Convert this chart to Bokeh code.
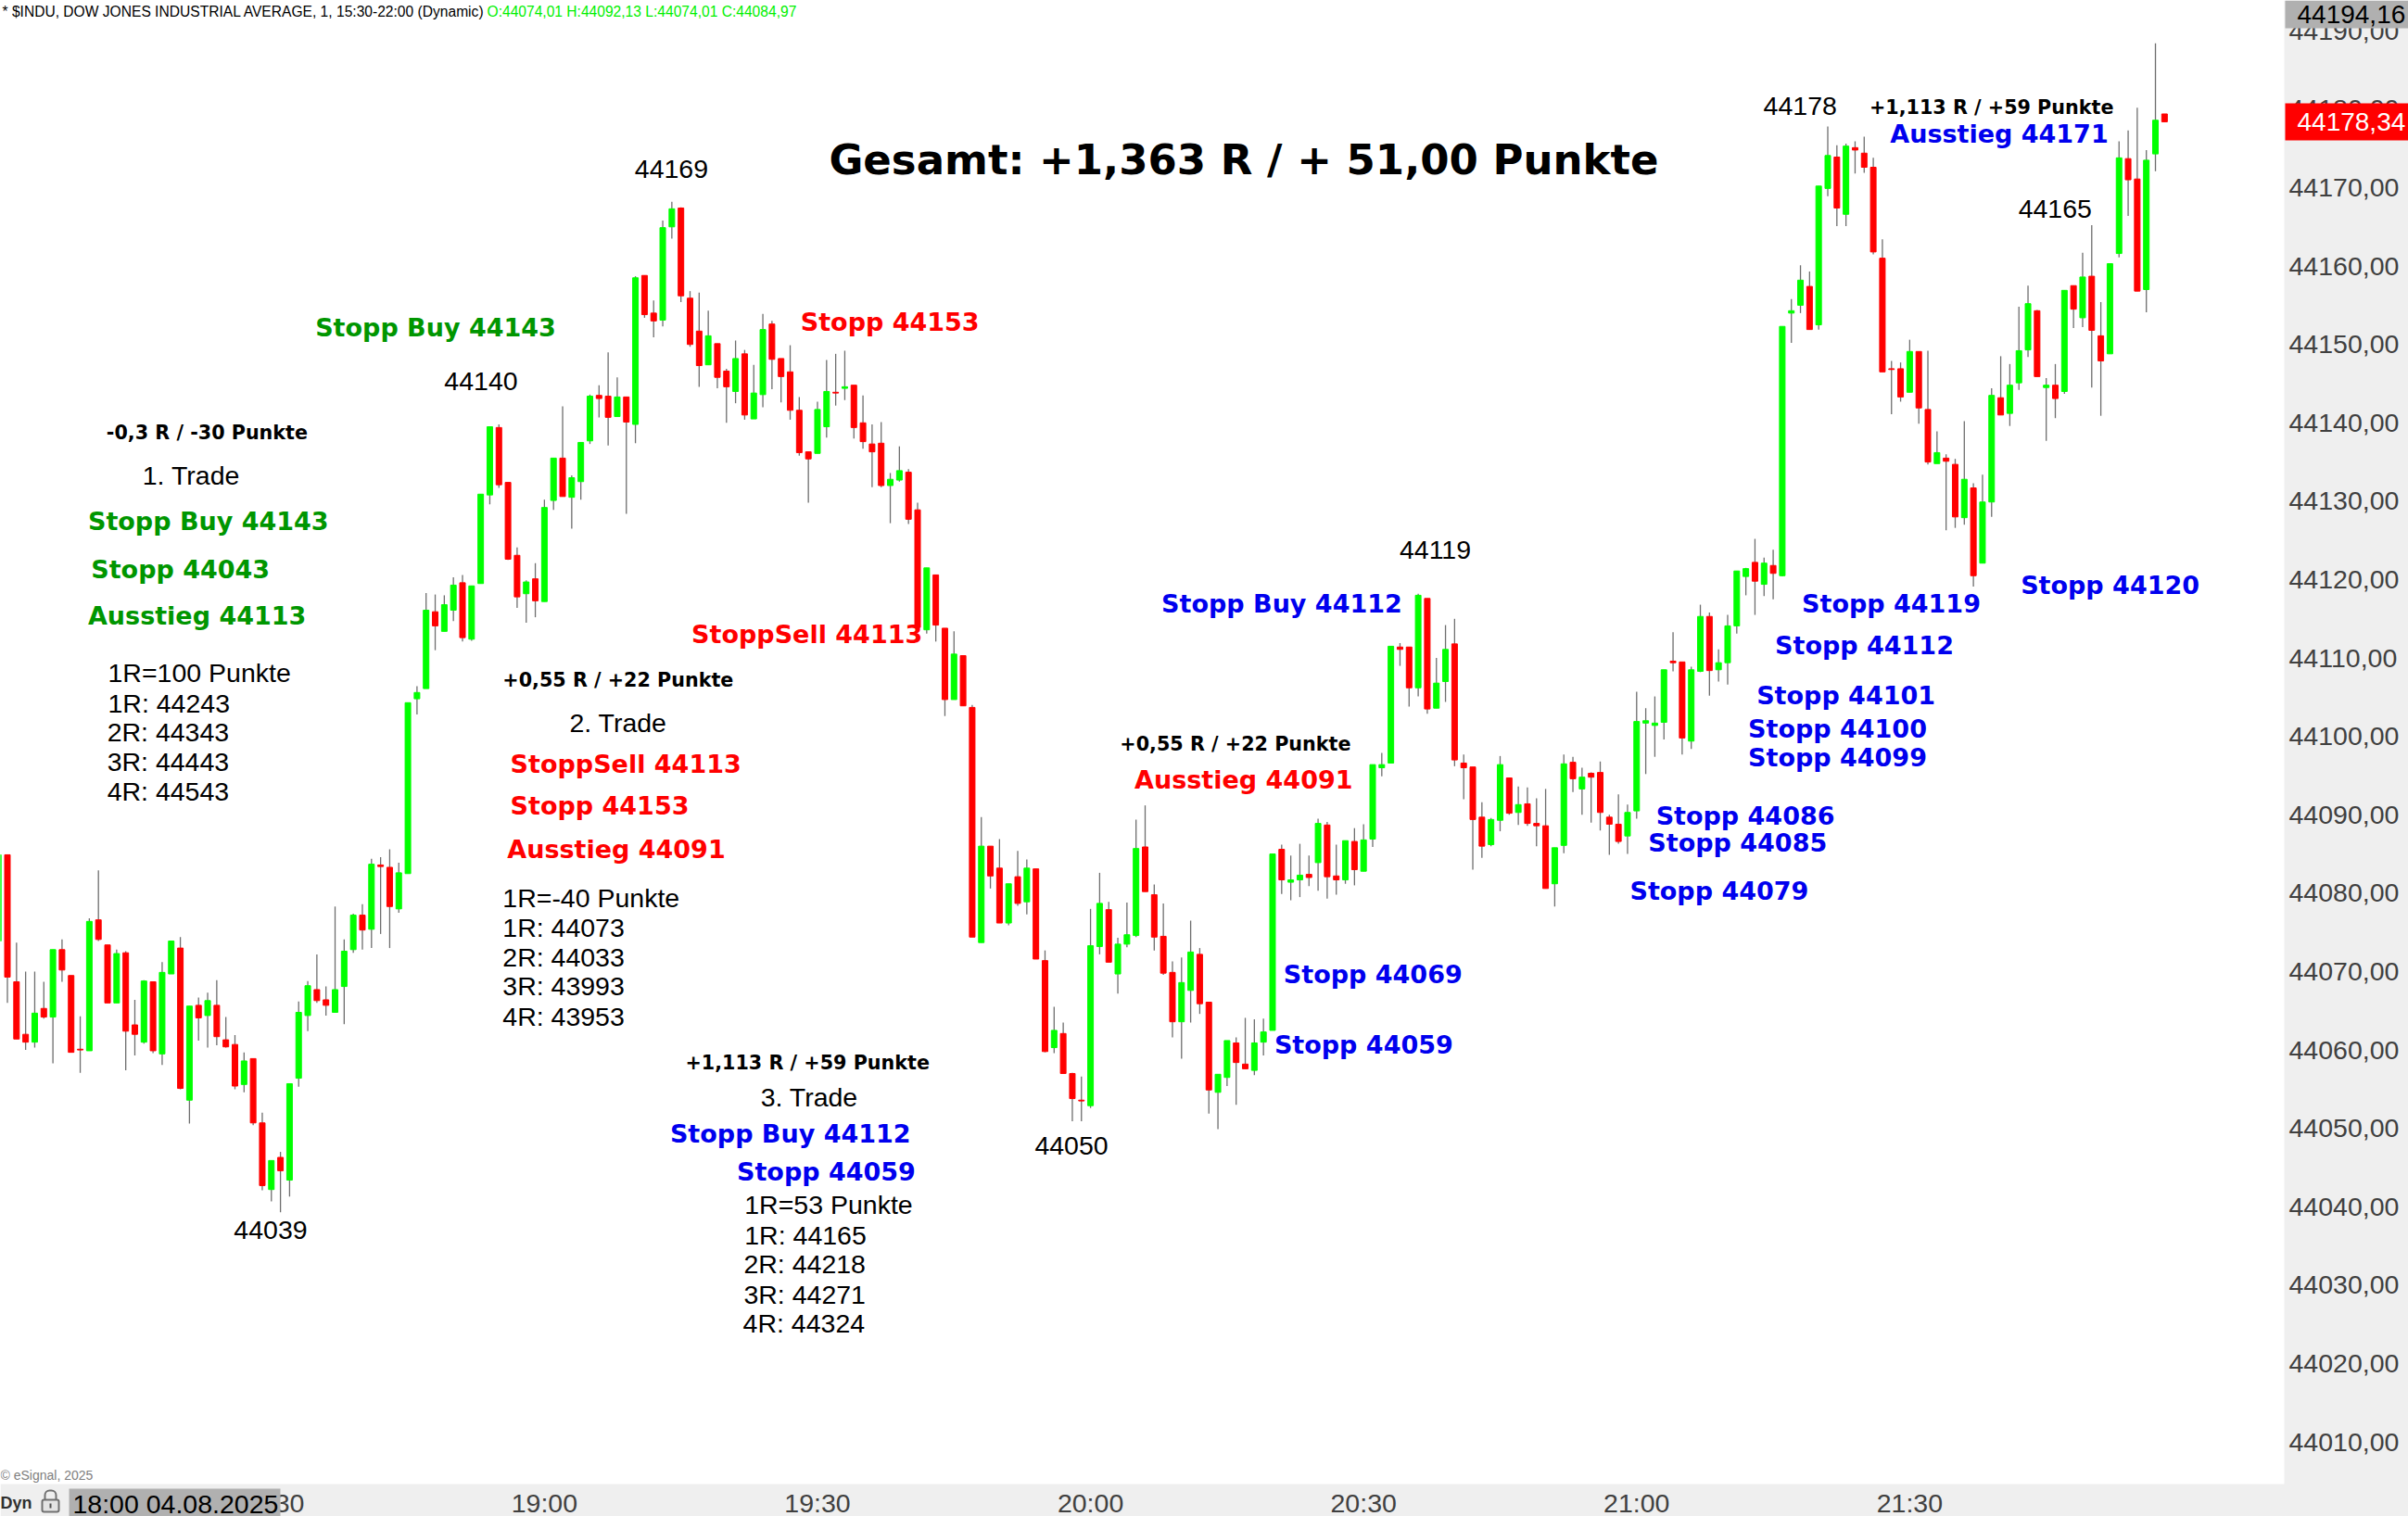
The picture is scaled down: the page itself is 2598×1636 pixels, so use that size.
from bokeh.plotting import figure
from bokeh.models import Range1d, FixedTicker, Label, BoxAnnotation, ColumnDataSource
from bokeh.embed import file_html
from bokeh.resources import INLINE

first_bar = -1
opens = [
44073.9,44084.9,44068.7,44062.0,44061.0,44065.3,44064.2,44072.8,44069.5,44060.1,
44059.9,44076.6,44073.4,44066.0,44072.4,44063.2,44061.0,44068.7,44059.5,44069.7,
44073.0,44053.6,44065.7,44064.4,44065.7,44061.3,44060.7,44055.6,44058.9,44050.7,
44042.2,44046.3,44043.4,44056.4,44064.4,44067.7,44066.4,44064.8,44068.1,44072.8,
44077.2,44075.4,44083.6,44083.3,44078.0,44082.5,44104.8,44106.1,44115.9,44113.4,
44116.1,44119.6,44112.4,44119.5,44130.8,44139.4,44132.4,44123.1,44118.2,44120.1,
44117.2,44130.1,44135.5,44130.5,44132.5,44137.7,44143.5,44143.4,44140.8,44143.3,
44139.8,44158.8,44154.0,44153.1,44165.0,44167.4,44155.9,44151.7,44147.4,44150.1,
44146.6,44144.0,44148.8,44140.5,44143.6,44152.6,44148.2,44146.5,44141.6,44136.3,
44136.1,44139.5,44143.9,44144.4,44144.8,44140.0,44137.3,44137.4,44132.0,44132.7,
44133.7,44128.9,44113.6,44120.6,44113.8,44104.7,44110.3,44103.7,44073.7,44086.0,
44083.2,44076.2,44082.1,44078.9,44083.1,44071.4,44060.3,44062.1,44057.0,44053.6,
44052.9,44073.2,44077.9,44069.7,44073.5,44074.6,44085.9,44079.8,44074.5,44069.9,
44063.6,44067.6,44072.2,44066.1,44054.6,44056.5,44060.9,44058.2,44057.4,44061.0,
44062.5,44085.6,44081.4,44081.7,44082.4,44083.9,44088.7,44082.2,44081.7,44086.6,
44082.8,44086.9,44096.0,44096.6,44111.4,44111.4,44106.2,44117.6,44103.6,44107.0,
44111.8,44096.6,44096.1,44089.7,44086.2,44089.3,44094.7,44090.3,44091.4,44088.9,
44088.6,44081.2,44086.1,44096.7,44093.3,44095.3,44095.4,44089.7,44088.8,44087.3,
44090.5,44101.7,44101.4,44101.8,44109.6,44109.5,44099.4,44108.3,44115.3,44108.5,
44109.4,44114.1,44120.4,44122.2,44119.4,44121.8,44120.5,44154.0,44155.0,44157.4,
44152.5,44169.9,44173.9,44166.6,44175.1,44174.4,44172.6,44161.0,44146.9,44146.9,
44143.9,44149.1,44141.7,44134.8,44135.5,44134.7,44127.9,44131.7,44122.1,44129.9,
44143.2,44141.2,44145.1,44149.3,44154.3,44144.5,44144.8,44144.0,44157.5,44153.4,
44158.7,44151.1,44148.8,44161.6,44173.7,44171.1,44157.0,44174.3,44179.4]
highs = [
44084.9,44084.9,44073.7,44070.0,44070.0,44068.7,44072.8,44074.1,44069.5,44064.3,
44076.8,44082.9,44073.4,44072.8,44072.6,44066.4,44068.9,44068.7,44071.2,44073.9,
44074.4,44065.6,44066.7,44067.3,44068.9,44064.2,44061.9,44059.7,44058.9,44052.0,
44045.9,44047.0,44055.7,44066.2,44068.8,44072.2,44068.1,44078.3,44074.1,44077.4,
44078.6,44084.4,44084.6,44085.6,44083.9,44104.3,44106.4,44118.3,44118.1,44118.0,
44120.3,44120.6,44119.2,44130.9,44139.5,44139.8,44132.4,44124.1,44119.9,44122.1,
44130.2,44135.5,44142.1,44133.3,44137.5,44143.6,44144.8,44149.0,44145.8,44143.3,
44158.7,44158.8,44155.6,44165.8,44168.2,44167.5,44156.8,44156.6,44154.3,44150.1,
44146.9,44150.5,44149.3,44147.4,44153.9,44153.0,44148.2,44149.9,44143.3,44136.3,
44142.7,44148.0,44148.8,44149.2,44144.8,44143.5,44139.8,44140.1,44133.6,44137.0,
44134.1,44129.8,44121.5,44120.6,44113.8,44113.4,44110.3,44104.0,44089.7,44086.0,
44086.9,44081.2,44085.4,44084.3,44083.1,44072.7,44065.5,44063.5,44057.1,44056.6,
44078.0,44082.6,44078.9,44074.3,44078.8,44089.4,44091.2,44081.1,44078.7,44071.3,
44071.8,44076.5,44073.0,44066.1,44056.9,44061.2,44061.6,44064.1,44063.9,44064.0,
44085.0,44086.2,44084.8,44086.3,44084.8,44089.5,44089.1,44086.2,44086.7,44088.3,
44088.8,44096.4,44097.9,44111.5,44111.9,44111.4,44118.2,44117.6,44110.0,44114.2,
44115.0,44097.7,44096.1,44091.6,44089.6,44097.5,44094.7,44093.6,44093.5,44092.1,
44093.3,44085.8,44097.7,44097.4,44096.0,44095.4,44096.8,44090.0,44092.6,44091.3,
44105.7,44103.6,44105.1,44108.5,44113.3,44109.5,44108.9,44116.8,44115.8,44111.1,
44115.5,44121.1,44121.5,44125.2,44122.8,44123.8,44152.3,44155.8,44160.1,44159.3,
44170.2,44177.8,44175.4,44175.6,44175.9,44176.5,44173.8,44163.4,44147.9,44147.7,
44150.6,44149.1,44149.2,44138.9,44136.0,44135.4,44140.2,44132.3,44133.4,44144.4,
44148.5,44147.5,44154.8,44157.5,44154.4,44145.7,44147.5,44156.9,44157.5,44161.7,
44165.2,44155.4,44160.3,44175.9,44177.3,44180.2,44174.8,44188.4,44179.4]
lows = [
44073.9,44066.0,44061.4,44060.0,44060.3,44064.0,44058.3,44068.7,44059.7,44057.1,
44059.9,44073.9,44066.0,44066.0,44057.4,44059.3,44060.8,44059.6,44058.1,44069.7,
44055.0,44050.6,44061.2,44060.3,44060.6,44060.3,44055.0,44054.6,44050.4,44042.1,
44040.7,44039.3,44041.3,44055.3,44062.4,44066.0,44064.4,44064.8,44063.3,44072.4,
44072.8,44073.0,44074.8,44073.0,44077.5,44082.5,44102.8,44106.1,44111.0,44113.4,
44114.7,44112.1,44112.2,44119.5,44129.6,44131.7,44122.5,44116.4,44114.5,44115.2,
44117.2,44128.9,44130.6,44126.5,44130.2,44137.3,44140.7,44137.1,44140.8,44128.4,
44137.4,44153.4,44150.9,44152.3,44163.5,44155.4,44149.7,44144.6,44147.4,44144.4,
44140.0,44142.5,44140.4,44140.5,44142.0,44144.3,44142.6,44140.4,44135.8,44129.8,
44136.1,44138.1,44142.2,44142.9,44138.0,44136.7,44131.8,44131.8,44127.2,44132.5,
44127.1,44113.9,44113.1,44112.1,44102.6,44104.7,44103.9,44074.4,44073.7,44080.6,
44076.2,44075.9,44078.4,44077.3,44071.6,44059.7,44059.6,44057.0,44050.9,44050.9,
44052.6,44072.2,44071.2,44067.2,44073.1,44074.4,44080.2,44072.7,44069.6,44061.6,
44058.9,44063.5,44064.6,44051.9,44049.9,44055.4,44053.0,44057.6,44056.8,44059.3,
44062.5,44079.9,44079.1,44079.5,44080.9,44080.3,44079.3,44079.8,44081.2,44081.0,
44082.8,44085.9,44094.9,44096.6,44109.0,44103.8,44105.1,44102.9,44103.6,44104.4,
44096.2,44092.0,44083.0,44084.5,44086.0,44087.9,44090.0,44088.7,44088.6,44086.0,
44080.6,44078.3,44085.1,44092.9,44090.0,44089.0,44088.0,44084.9,44086.3,44085.0,
44089.5,44095.2,44097.4,44099.6,44108.3,44097.7,44098.4,44108.2,44105.2,44107.0,
44106.6,44113.1,44118.0,44115.5,44117.9,44117.5,44120.4,44150.2,44154.0,44151.9,
44151.9,44168.9,44165.1,44165.1,44171.8,44171.9,44161.5,44146.5,44141.1,44142.7,
44143.9,44139.9,44134.7,44134.8,44126.3,44126.6,44127.0,44119.1,44122.1,44128.0,
44141.0,44139.6,44144.2,44148.4,44145.9,44137.7,44140.6,44143.7,44152.1,44152.2,
44144.5,44140.9,44148.8,44161.1,44166.4,44156.8,44154.1,44172.1,44178.4]
closes = [
44084.9,44069.3,44061.4,44061.0,44064.7,44064.2,44072.8,44070.2,44059.7,44060.0,
44076.4,44074.1,44066.0,44072.3,44062.4,44062.0,44068.8,44059.9,44069.9,44073.9,
44055.1,44065.6,44064.1,44066.3,44061.7,44060.4,44055.4,44058.6,44050.7,44042.7,
44045.9,44044.6,44055.7,44064.8,44068.2,44066.3,44065.7,44067.7,44072.6,44077.2,
44075.3,44083.7,44083.4,44078.3,44082.6,44104.3,44105.6,44116.1,44114.1,44116.8,
44119.3,44112.6,44119.2,44130.9,44139.5,44132.1,44122.6,44117.8,44119.7,44117.3,
44129.2,44135.5,44130.6,44133.0,44137.5,44143.4,44143.1,44140.7,44143.3,44140.1,
44158.5,44153.8,44153.0,44164.9,44167.3,44156.2,44150.0,44147.3,44151.1,44145.8,
44144.6,44148.2,44141.0,44143.8,44151.9,44148.1,44145.9,44141.6,44136.2,44135.4,
44141.7,44144.0,44143.8,44144.6,44139.4,44137.6,44136.3,44132.0,44132.8,44133.9,
44127.7,44113.9,44121.5,44114.2,44104.7,44110.5,44103.9,44074.4,44086.0,44082.2,
44076.2,44081.2,44078.7,44083.2,44071.6,44059.8,44062.5,44057.0,44053.8,44053.5,
44073.3,44078.7,44071.2,44073.5,44074.7,44085.7,44080.2,44074.4,44069.8,44063.6,
44068.6,44072.5,44065.9,44054.9,44056.9,44061.2,44058.4,44057.6,44060.9,44062.3,
44085.0,44081.7,44081.7,44082.3,44082.0,44088.9,44082.1,44081.7,44086.7,44083.0,
44086.8,44096.4,44096.4,44111.5,44111.1,44106.2,44118.0,44103.5,44106.8,44111.1,
44097.0,44096.0,44089.4,44086.0,44089.4,44096.4,44090.2,44091.3,44088.9,44088.6,
44080.6,44085.8,44096.5,44094.6,44094.8,44094.8,44090.3,44088.8,44086.6,44090.3,
44101.9,44102.0,44101.7,44108.5,44109.4,44099.8,44108.5,44115.3,44108.4,44109.4,
44114.1,44121.1,44121.4,44119.8,44122.1,44120.8,44152.3,44154.3,44158.2,44151.9,
44170.2,44174.1,44167.4,44175.3,44174.8,44172.6,44161.8,44146.5,44146.8,44143.3,
44149.1,44141.9,44135.0,44136.2,44135.1,44128.0,44132.8,44120.5,44129.9,44143.5,
44141.0,44144.8,44149.2,44155.2,44145.9,44144.8,44143.1,44156.9,44154.5,44158.6,
44151.8,44147.9,44160.3,44173.8,44171.0,44156.8,44173.5,44178.6,44178.4]

price_ticks = list(range(44010, 44200, 10))
time_ticks = [29, 59, 89, 119, 149, 179, 209]
time_labels = ["18:30", "19:00", "19:30", "20:00", "20:30", "21:00", "21:30"]

# labels drawn on the chart: text, left edge and vertical centre in the 1568-wide view
green_labels = [("Stopp Buy 44143", 205, 214), ("Stopp Buy 44143", 57, 340),
                ("Stopp 44043", 59, 371.5), ("Ausstieg 44113", 57, 401.5)]
red_labels = [("Stopp 44153", 521, 210.5), ("StoppSell 44113", 450, 414),
              ("StoppSell 44113", 332, 498), ("Stopp 44153", 332, 525.5),
              ("Ausstieg 44091", 330, 553.5), ("Ausstieg 44091", 738.5, 508.5)]
blue_labels = [("Stopp Buy 44112", 756, 394), ("Stopp Buy 44112", 436, 739),
               ("Stopp 44059", 479.5, 763.5), ("Ausstieg 44171", 1230.5, 88),
               ("Stopp 44119", 1173, 394), ("Stopp 44112", 1155.5, 421),
               ("Stopp 44120", 1315.5, 382), ("Stopp 44101", 1143.5, 453.5),
               ("Stopp 44100", 1138, 475), ("Stopp 44099", 1138, 494),
               ("Stopp 44086", 1078, 532), ("Stopp 44085", 1073, 549.5),
               ("Stopp 44079", 1061, 581), ("Stopp 44069", 835.5, 635),
               ("Stopp 44059", 829.5, 681)]
result_labels = [("-0,3 R / -30 Punkte", 69, 282.5), ("+0,55 R / +22 Punkte", 327, 443.5),
                 ("+0,55 R / +22 Punkte", 729, 485.5), ("+1,113 R / +59 Punkte", 446, 693),
                 ("+1,113 R / +59 Punkte", 1217, 70.5)]
plain_labels = [("44169", 413, 111), ("44140", 289, 249), ("44119", 911, 359),
                ("44039", 152, 802), ("44050", 673.5, 747), ("44178", 1148, 70),
                ("44165", 1314, 137), ("1. Trade", 92.5, 310.5), ("2. Trade", 370.5, 471.5),
                ("3. Trade", 495, 715), ("1R=100 Punkte", 70, 439), ("1R: 44243", 70, 458.5),
                ("2R: 44343", 69.5, 477.5), ("3R: 44443", 69.5, 497), ("4R: 44543", 69.5, 516),
                ("1R=-40 Punkte", 327, 585.5), ("1R: 44073", 327, 605), ("2R: 44033", 327, 624),
                ("3R: 43993", 327, 643), ("4R: 43953", 327, 662.5), ("1R=53 Punkte", 484.5, 785.5),
                ("1R: 44165", 484.5, 805), ("2R: 44218", 484, 824), ("3R: 44271", 484, 843.5),
                ("4R: 44324", 483.5, 862.5)]

PAGE_W, PAGE_H = 2598, 1636
CHART_W, CHART_H = 2464, 1601
BAR_PX, BAR0_PX = 9.82, 7.5
PT_PX, P44170_PX = 8.46, 202.0
VIEW = 2598 / 1568

def X(px):
    return (px - BAR0_PX) / BAR_PX

def Y(px):
    return 44170 - (px - P44170_PX) / PT_PX

GREEN, RED = "#00FF00", "#FF0000"
idx = [first_bar + k for k in range(len(opens))]
colors = [GREEN if c > o else RED for o, c in zip(opens, closes)]
src = ColumnDataSource(dict(x=idx, o=opens, h=highs, l=lows, c=closes, color=colors))

p = figure(frame_width=PAGE_W, frame_height=PAGE_H, output_backend="svg", toolbar_location=None,
           x_range=Range1d(X(0), X(PAGE_W)), y_range=Range1d(Y(PAGE_H), Y(0)),
           y_axis_location="right", min_border=0,
           background_fill_color="#FFFFFF", border_fill_color="#EFEFEF", outline_line_color=None)
p.margin = (0, 0, 0, 0)
p.grid.visible = False

def box(left, top, right, bottom, fill, line=None, radius=0, width=1, level="annotation"):
    p.add_layout(BoxAnnotation(left=left, right=right, top=PAGE_H - top, bottom=PAGE_H - bottom,
                               left_units="screen", right_units="screen",
                               top_units="screen", bottom_units="screen",
                               fill_color=fill, fill_alpha=1, line_color=line, line_width=width,
                               line_alpha=1, border_radius=radius, level=level))

# the two axis bands lie under the tick labels
box(CHART_W, 0, PAGE_W, PAGE_H, "#EFEFEF", level="underlay")
box(0, CHART_H, PAGE_W, PAGE_H, "#EFEFEF", level="underlay")

for ax in (p.xaxis[0], p.yaxis[0]):
    ax.axis_line_color = None
    ax.major_tick_line_color = None
    ax.minor_tick_line_color = None
    ax.major_label_text_font = "Liberation Sans"
    ax.major_label_text_font_size = "28.5px"
    ax.major_label_text_color = "#404040"
p.yaxis[0].ticker = FixedTicker(ticks=price_ticks)
p.yaxis[0].major_label_overrides = {t: f"{t},00" for t in price_ticks}
p.yaxis[0].major_label_standoff = -135
p.xaxis[0].ticker = FixedTicker(ticks=time_ticks)
p.xaxis[0].major_label_overrides = dict(zip(time_ticks, time_labels))
p.xaxis[0].major_label_standoff = -37

p.segment("x", "h", "x", "l", source=src, line_color="#6E6E6E", line_width=1.3)
p.vbar(x="x", top="o", bottom="c", width=6 / BAR_PX, source=src,
       fill_color="color", line_color="color", line_width=1)

def put(text, px, py, color, size, font="Liberation Sans", style="normal"):
    p.add_layout(Label(x=px, y=PAGE_H - py, x_units="screen", y_units="screen", text=text,
                       text_color=color, text_font=font,
                       text_font_size=f"{size}px", text_font_style=style,
                       text_align="left", text_baseline="middle"))

LIFT = 1.5
for rows, color in ((green_labels, "#009600"), (red_labels, RED), (blue_labels, "#0000EE")):
    for t, sx, sy in rows:
        put(t, sx * VIEW, sy * VIEW - LIFT, color, 27, "DejaVu Sans", "bold")
for t, sx, sy in result_labels:
    put(t, sx * VIEW, sy * VIEW - LIFT, "#000000", 20.7, "DejaVu Sans", "bold")
for t, sx, sy in plain_labels:
    put(t, sx * VIEW, sy * VIEW - LIFT, "#000000", 28.5)
put("Gesamt: +1,363 R / + 51,00 Punkte", 539.5 * VIEW, 105 * VIEW - LIFT, "#000000", 45, "DejaVu Sans", "bold")

put("* $INDU, DOW JONES INDUSTRIAL AVERAGE, 1, 15:30-22:00 (Dynamic)", 2, 12, "#000000", 15.6)
put("O:44074,01 H:44092,13 L:44074,01 C:44084,97", 525, 12, "#00F000", 15.6)
put("© eSignal, 2025", 0, 1591, "#808080", 14)

box(2465, 0, 2598, 30, "#B0B0B0")
put("44194,16", 2478, 15, "#000000", 28)
box(2465, 111, 2598, 151, RED)
put("44178,34", 2478, 131, "#FFFFFF", 28)
box(74, 1606, 302, 1636, "#B0B0B0")
put("18:00 04.08.2025", 78, 1622, "#000000", 28.5)
put("Dyn", 0, 1621, "#303030", 18, "Liberation Sans", "bold")
box(48, 1608, 60, 1622, "#EFEFEF", "#707070", 5, 2)
box(45, 1618, 63, 1631, "#E4E4E4", "#707070", 2, 2)
box(53, 1622, 55, 1627, "#505050")

open("out.html", "w").write(file_html(p, INLINE))
